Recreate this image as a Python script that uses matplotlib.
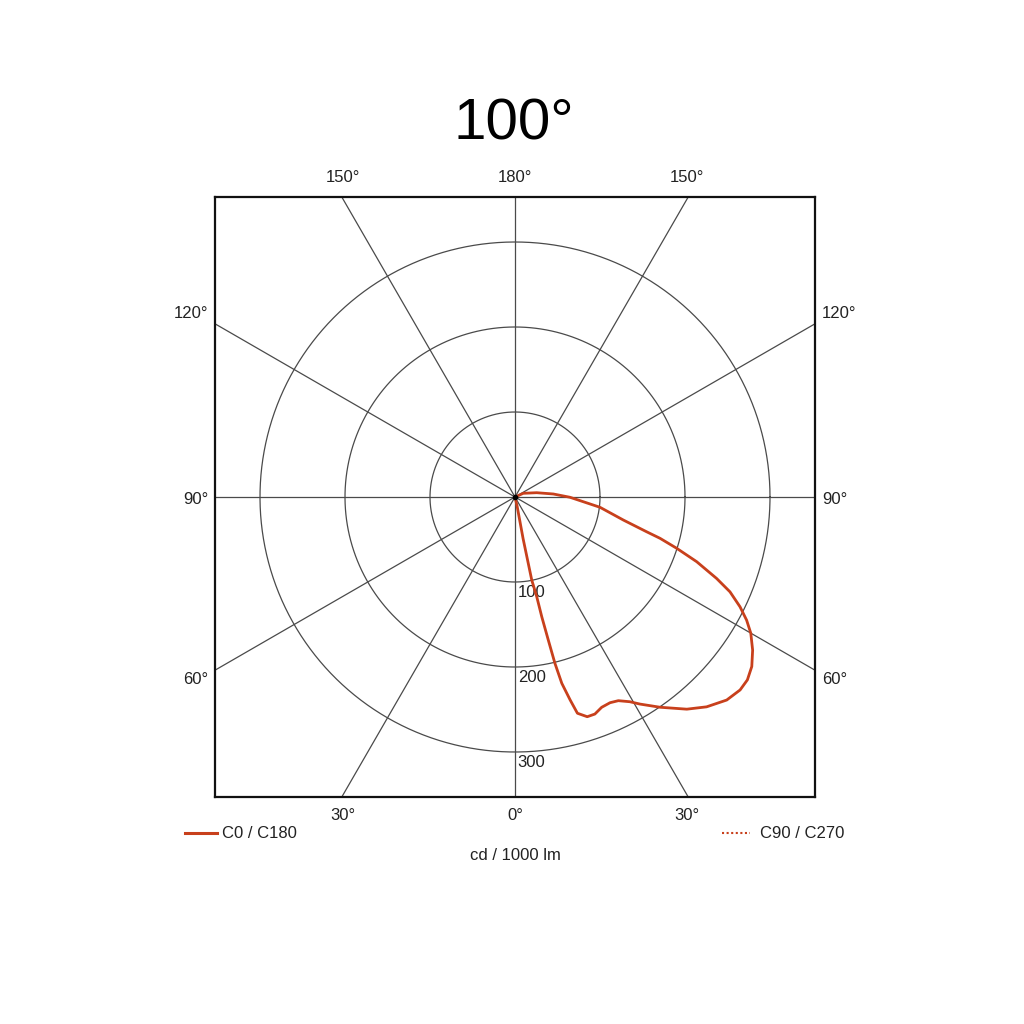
import numpy as np
import matplotlib
matplotlib.use("Agg")
import matplotlib.pyplot as plt

plt.rcParams['font.family'] = ['Liberation Sans', 'DejaVu Sans']

# C0 / C180 curve: gamma angle (deg, 0 = straight down, positive toward C0 side) and intensity (cd/1000 lm)
gamma_c0 = [115, 114.0, 101.2, 94.5, 89.7, 83.1, 78.0, 75.2, 74.1, 72.4, 70.4, 68.0, 66.2,
            64.0, 62.0, 60.0, 57.2, 54.4, 51.8, 49.4, 46.2, 42.4, 39.0, 34.6, 31.1, 29.3,
            26.9, 24.8, 22.4, 20.2, 18.2, 16.1, 15.2, 14.1, 13.5, 13.1, 12.6, 12.3, 11.4,
            11.0, 13.0, 13.0]
intensity_c0 = [0, 10.7, 26.0, 45.2, 64.7, 100.7, 130.3, 160.2, 177.4, 199.6, 226.9, 255.8, 276.4,
                294.5, 308.6, 320.3, 332.6, 342.6, 347.9, 348.8, 345.1, 334.3, 321.2, 300.5, 284.5, 276.2,
                268.7, 266.6, 267.6, 272.1, 272.1, 264.8, 247.4, 226.0, 201.2, 172.7, 144.3, 120.0, 99.6,
                50.0, 11.0, 0]

ring_values = [100, 200, 300]
ring_labels = ["100", "200", "300"]
spoke_angles = [0, 30, 60, 90, 120, 150]
title_text = "100°"
unit_text = "cd / 1000 lm"
legend_c0 = "C0 / C180"
legend_c90 = "C90 / C270"

curve_color = '#c8401c'
grid_color = '#4a4a4a'

fig = plt.figure(figsize=(10.24, 10.24), dpi=100)
ax = fig.add_axes([215/1024, 1 - 797/1024, 600/1024, 600/1024])
R = 300 / 0.85
ax.set_xlim(-R, R)
ax.set_ylim(-R, R)
ax.set_aspect('equal')
ax.set_xticks([])
ax.set_yticks([])
for sp in ax.spines.values():
    sp.set_linewidth(1.6)
    sp.set_color('#111111')

# rings
t = np.linspace(0, 2 * np.pi, 400)
for rv in ring_values:
    ax.plot(rv * np.cos(t), rv * np.sin(t), color=grid_color, lw=0.9, zorder=1)

# spokes
L = 2 * R
for a in spoke_angles:
    ar = np.radians(a)
    ax.plot([-L * np.sin(ar), L * np.sin(ar)], [L * np.cos(ar), -L * np.cos(ar)],
            color=grid_color, lw=0.9, zorder=1)

fs = 12
tc = '#222222'

# ring labels
for rv, lab in zip(ring_values, ring_labels):
    ax.annotate(lab, xy=(0, -rv), xytext=(2, -2), textcoords='offset points',
                ha='left', va='top', fontsize=fs, color=tc)

# curve
g = np.radians(np.array(gamma_c0))
I = np.array(intensity_c0)
ax.plot(I * np.sin(g), -I * np.cos(g), color=curve_color, lw=2.0, zorder=3,
        solid_joinstyle='round', solid_capstyle='round')
ax.plot([0], [0], 'o', color='black', ms=3, zorder=4)

# angle labels
def fx(px):
    return px / 1024
def fy(py):
    return 1 - py / 1024
fig.text(fx(343), fy(178), "150°", ha='center', va='center', fontsize=fs, color=tc)
fig.text(fx(515), fy(178), "180°", ha='center', va='center', fontsize=fs, color=tc)
fig.text(fx(687), fy(178), "150°", ha='center', va='center', fontsize=fs, color=tc)
fig.text(fx(343), fy(815), "30°", ha='center', va='center', fontsize=fs, color=tc)
fig.text(fx(515), fy(815), "0°", ha='center', va='center', fontsize=fs, color=tc)
fig.text(fx(687), fy(815), "30°", ha='center', va='center', fontsize=fs, color=tc)
for lab, py in [("120°", 314), ("90°", 499), ("60°", 679)]:
    fig.text(fx(208), fy(py), lab, ha='right', va='center', fontsize=fs, color=tc)
    fig.text(fx(822), fy(py), lab, ha='left', va='center', fontsize=fs, color=tc)

# title
fig.text(fx(514), fy(125), title_text, ha='center', va='center', fontsize=42, color='black')

# legend
lax = fig.add_axes([0, 0, 1, 1], facecolor='none')
lax.set_xlim(0, 1024)
lax.set_ylim(1024, 0)
lax.axis('off')
lax.plot([185, 217], [833, 833], color=curve_color, lw=2.2)
lax.text(222, 833, legend_c0, ha='left', va='center', fontsize=fs, color=tc)
lax.plot([722, 750], [833, 833], color=curve_color, lw=1.5, linestyle=(0, (1, 1.2)))
lax.text(760, 833, legend_c90, ha='left', va='center', fontsize=fs, color=tc)
lax.text(515, 855, unit_text, ha='center', va='center', fontsize=fs, color=tc)

fig.savefig('out.png', dpi=100, facecolor='white')
